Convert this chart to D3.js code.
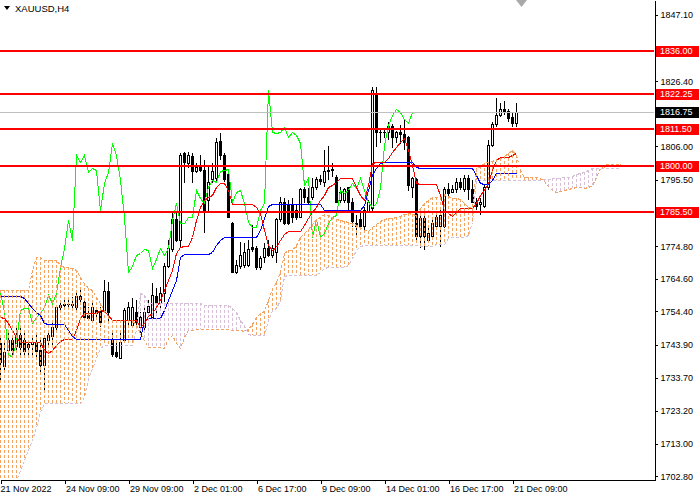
<!DOCTYPE html>
<html>
<head>
<meta charset="utf-8">
<script src="https://cdn.jsdelivr.net/npm/d3@7"></script>
<style>
body { margin: 0; background: #fff; }
svg { display: block; font-family: "Liberation Sans", Arial, sans-serif; }
</style>
</head>
<body>
<div id="chart"></div>
<script>
// XAUUSD H4 bars, 21 Nov - 21 Dec 2022
const opens = [1744.5,1737.0,1742.3,1745.4,1743.3,1747.0,1745.4,1743.0,1743.9,1744.5,
	1742.3,1737.6,1745.4,1746.4,1749.5,1755.5,1756.1,1756.7,1756.4,1755.5,
	1758.9,1757.3,1753.0,1751.7,1754.8,1754.5,1754.8,1760.5,1745.4,1741.4,
	1739.8,1745.4,1751.7,1750.1,1753.9,1749.2,1749.5,1753.9,1752.6,1758.9,
	1757.0,1760.1,1768.3,1773.6,1783.0,1776.7,1803.9,1800.8,1802.7,1798.0,
	1799.6,1798.6,1789.2,1795.5,1796.1,1807.4,1803.3,1797.1,1782.0,1766.7,
	1768.3,1768.9,1768.9,1774.5,1774.2,1768.0,1771.1,1774.2,1772.0,1772.7,
	1783.0,1788.3,1787.7,1787.7,1786.1,1783.9,1792.4,1789.9,1789.9,1793.3,
	1795.8,1794.6,1798.3,1798.6,1796.4,1789.2,1789.2,1793.0,1788.3,1782.0,
	1783.0,1780.8,1785.5,1786.7,1822.1,1810.5,1810.2,1810.2,1812.1,1808.9,
	1810.5,1809.6,1808.9,1793.3,1795.8,1777.7,1783.3,1776.7,1777.7,1780.8,
	1780.8,1780.8,1792.4,1791.7,1792.4,1794.6,1792.4,1796.1,1792.4,1788.6,
	1787.7,1787.1,1793.0,1806.4,1812.7,1815.8,1817.4,1816.8,1814.9,1813.3];
const highs = [1747.0,1745.4,1748.6,1747.0,1749.2,1749.5,1747.6,1745.4,1746.4,1747.6,
	1745.4,1746.4,1748.0,1751.7,1755.8,1757.0,1758.9,1758.0,1758.9,1760.1,
	1761.1,1758.0,1755.8,1758.0,1755.8,1755.8,1764.2,1763.6,1747.6,1744.5,
	1747.6,1755.5,1757.3,1758.6,1758.0,1754.2,1755.8,1758.0,1763.3,1761.7,
	1762.0,1769.5,1776.7,1785.2,1785.5,1803.9,1804.3,1804.3,1803.9,1800.8,
	1803.3,1801.7,1800.2,1800.8,1808.6,1810.2,1803.9,1797.7,1782.4,1770.5,
	1776.1,1775.8,1776.7,1781.4,1774.9,1771.7,1775.8,1776.7,1775.2,1783.6,
	1790.2,1789.9,1789.2,1789.9,1787.7,1793.0,1793.3,1793.0,1796.1,1796.4,
	1797.1,1804.9,1806.1,1800.8,1797.1,1793.3,1793.0,1793.3,1789.9,1784.5,
	1785.5,1787.1,1789.2,1824.6,1824.6,1811.8,1811.5,1813.6,1813.0,1810.8,
	1812.7,1814.3,1809.3,1796.4,1796.1,1785.2,1785.5,1780.5,1783.9,1785.5,
	1787.1,1793.3,1794.6,1793.9,1796.1,1796.1,1797.1,1797.1,1795.5,1789.9,
	1789.9,1793.9,1808.0,1813.6,1821.1,1819.6,1820.2,1817.7,1816.8,1819.6];
const lows = [1733.0,1736.1,1740.8,1740.8,1741.4,1740.1,1740.8,1740.1,1740.8,1739.2,
	1735.1,1728.9,1743.3,1743.3,1747.6,1754.8,1755.8,1755.5,1754.8,1753.9,
	1757.0,1751.7,1751.7,1750.8,1751.7,1749.5,1753.9,1750.8,1740.1,1739.8,
	1739.5,1744.8,1749.5,1749.5,1749.5,1747.6,1748.6,1753.3,1751.7,1753.9,
	1754.8,1757.3,1768.0,1773.0,1776.1,1774.5,1794.6,1799.3,1794.6,1797.7,
	1798.0,1778.9,1785.5,1794.6,1794.6,1801.7,1794.9,1783.6,1766.4,1766.1,
	1767.7,1768.0,1768.3,1773.0,1767.3,1767.3,1769.5,1771.4,1771.1,1769.5,
	1782.4,1781.4,1781.4,1782.0,1783.0,1783.6,1788.3,1787.7,1789.2,1792.4,
	1793.9,1793.3,1795.5,1796.4,1788.3,1788.3,1788.3,1785.2,1780.8,1777.7,
	1780.5,1779.9,1785.2,1785.5,1805.8,1807.1,1808.6,1808.0,1805.5,1807.0,
	1806.8,1804.9,1792.0,1789.9,1776.7,1774.2,1773.6,1776.1,1776.7,1779.9,
	1774.5,1780.5,1790.2,1791.4,1791.4,1792.4,1791.7,1789.2,1788.3,1786.1,
	1784.5,1786.7,1792.4,1805.8,1812.1,1815.2,1815.8,1813.6,1812.1,1812.1];
const closes = [1738.3,1741.4,1745.4,1742.3,1747.0,1743.0,1741.7,1743.9,1744.8,1741.7,
	1737.6,1745.8,1747.0,1749.5,1755.5,1756.1,1756.7,1756.4,1756.1,1759.2,
	1758.0,1752.6,1752.3,1755.5,1753.6,1750.8,1760.5,1754.2,1740.8,1740.4,
	1744.8,1754.8,1755.5,1755.5,1750.8,1752.6,1753.9,1755.8,1759.5,1757.0,
	1760.1,1768.3,1774.2,1783.0,1776.7,1803.3,1801.1,1803.3,1798.0,1799.3,
	1798.6,1786.1,1794.6,1798.0,1807.1,1803.3,1795.5,1783.9,1766.7,1768.6,
	1772.0,1772.7,1773.9,1773.6,1768.0,1770.8,1774.2,1772.0,1774.2,1783.0,
	1788.3,1782.0,1782.0,1783.9,1783.9,1792.4,1789.9,1788.3,1793.3,1795.5,
	1794.9,1798.3,1798.6,1798.9,1788.6,1791.7,1792.4,1788.3,1782.4,1780.8,
	1780.8,1786.1,1788.3,1823.6,1810.5,1810.2,1810.5,1812.1,1808.9,1810.5,
	1809.6,1807.1,1793.9,1796.1,1777.7,1783.3,1777.7,1778.9,1782.0,1783.9,
	1784.5,1792.4,1791.4,1792.4,1794.6,1793.0,1796.1,1792.4,1788.6,1787.1,
	1788.3,1793.0,1806.4,1812.7,1815.8,1817.7,1816.8,1814.6,1813.3,1816.75];

// Ichimoku lines as drawn on the chart
const tenkan = [1752.6,1752.3,1750.8,1748.6,1746.4,1744.8,1744.8,1744.8,1744.8,1744.8,
	1744.8,1742.3,1741.4,1742.3,1743.9,1745.1,1745.8,1745.8,1745.8,1748.6,
	1752.3,1753.9,1753.9,1753.9,1753.9,1754.8,1754.5,1753.3,1751.7,1751.7,
	1751.7,1751.7,1751.7,1751.7,1751.7,1749.5,1750.8,1753.0,1753.9,1755.8,
	1758.0,1761.1,1764.2,1767.3,1772.7,1774.5,1774.9,1774.9,1777.7,1783.0,
	1787.1,1789.2,1790.2,1790.8,1793.3,1794.6,1794.6,1792.4,1788.0,1788.0,
	1788.0,1788.0,1788.0,1788.0,1787.1,1785.2,1779.9,1775.2,1773.6,1774.5,
	1776.7,1778.6,1779.5,1779.5,1779.5,1779.5,1781.4,1783.6,1785.5,1787.1,
	1789.2,1790.8,1793.3,1793.9,1794.9,1796.1,1796.1,1796.1,1796.1,1793.3,
	1790.8,1789.2,1793.9,1800.8,1801.1,1801.1,1801.1,1802.4,1804.3,1805.8,
	1807.4,1808.6,1804.9,1800.2,1794.6,1794.2,1794.2,1794.2,1794.2,1794.2,
	1790.8,1786.1,1785.2,1784.2,1785.5,1786.7,1786.7,1786.7,1786.7,1788.3,
	1790.8,1792.4,1794.6,1798.6,1801.7,1802.7,1802.7,1802.7,1803.3,1803.9];
const kijun = [1759.2,1759.2,1759.2,1759.2,1759.2,1759.2,1758.6,1757.0,1755.5,1754.2,
	1753.3,1750.8,1750.4,1750.4,1750.4,1750.4,1750.4,1748.6,1746.7,1745.8,
	1745.8,1745.8,1745.8,1745.8,1745.8,1745.8,1745.8,1745.8,1745.8,1745.8,
	1745.8,1745.8,1745.8,1745.8,1745.8,1745.8,1751.7,1752.3,1752.3,1752.3,
	1752.3,1754.8,1758.0,1761.1,1764.2,1771.4,1772.3,1772.3,1772.3,1772.3,
	1772.3,1772.3,1772.3,1773.0,1775.2,1776.7,1777.7,1777.7,1777.7,1777.7,
	1777.7,1777.7,1777.7,1777.7,1777.7,1779.9,1783.6,1787.4,1788.0,1788.0,
	1788.0,1788.0,1788.0,1788.0,1788.0,1788.0,1788.0,1788.0,1788.0,1788.0,
	1788.0,1786.1,1786.1,1786.1,1786.1,1786.1,1786.1,1786.1,1786.1,1786.1,
	1786.1,1787.7,1792.4,1797.1,1799.3,1800.8,1801.1,1801.1,1801.1,1801.1,
	1801.1,1801.1,1801.1,1801.1,1799.6,1799.3,1799.3,1799.3,1799.3,1799.3,
	1799.3,1799.3,1799.3,1799.3,1799.3,1799.3,1799.3,1799.3,1799.3,1797.1,
	1794.6,1794.2,1794.2,1795.5,1797.7,1797.7,1797.7,1797.7,1797.7,1797.7];
// Senkou spans, already shifted 26 bars forward (bar index 0..155)
const spanA = [1761.1,1761.1,1761.1,1761.1,1761.1,1761.1,1761.1,1761.1,1767.3,1771.4,
	1771.4,1770.5,1770.5,1770.5,1770.5,1768.9,1768.3,1768.3,1768.0,1767.3,
	1765.2,1763.3,1761.7,1761.1,1758.9,1757.0,1754.8,1753.0,1751.7,1751.7,
	1751.7,1751.7,1751.7,1751.7,1750.1,1747.6,1745.4,1743.3,1743.3,1743.3,
	1743.3,1743.0,1746.1,1747.0,1744.5,1743.0,1746.4,1748.6,1748.6,1748.9,
	1748.9,1748.9,1748.9,1748.9,1748.9,1748.9,1748.9,1748.9,1748.6,1748.6,
	1748.6,1748.3,1748.9,1750.4,1752.6,1753.9,1754.5,1758.0,1761.7,1763.6,
	1766.7,1772.7,1773.6,1773.6,1775.2,1777.7,1778.9,1780.2,1781.7,1783.3,
	1783.9,1784.9,1784.5,1783.9,1783.3,1783.0,1782.7,1782.4,1782.0,1781.4,
	1780.8,1779.9,1779.5,1780.8,1781.7,1782.7,1783.3,1783.6,1783.6,1783.9,
	1784.2,1784.9,1785.2,1784.9,1784.5,1786.7,1788.3,1789.2,1790.2,1790.2,
	1790.2,1791.1,1790.5,1789.9,1789.9,1789.5,1788.3,1787.1,1786.7,1799.3,
	1799.9,1800.8,1801.1,1801.4,1802.1,1802.4,1803.0,1803.9,1804.9,1803.3,
	1798.6,1796.4,1796.4,1796.4,1796.4,1796.1,1795.2,1793.6,1792.4,1791.7,
	1792.0,1792.4,1792.7,1793.0,1793.3,1793.3,1793.0,1793.3,1793.9,1796.4,
	1799.3,1800.2,1800.5,1800.5,1800.5,1800.5];
const spanB = [1698.5,1698.5,1698.5,1698.5,1701.7,1704.8,1707.9,1711.0,1714.2,1718.2,
	1722.9,1725.7,1725.7,1725.7,1725.7,1725.7,1725.7,1725.7,1725.7,1725.7,
	1725.7,1727.6,1733.6,1736.7,1739.8,1743.0,1743.9,1743.9,1743.9,1743.9,
	1743.9,1743.9,1743.9,1743.9,1748.6,1760.2,1759.5,1757.0,1757.0,1757.0,
	1757.0,1757.0,1757.0,1757.0,1757.0,1757.0,1757.0,1757.0,1757.0,1757.0,
	1757.0,1756.4,1756.4,1756.4,1756.4,1756.4,1756.4,1756.4,1755.5,1754.2,
	1751.7,1750.1,1747.3,1747.0,1747.0,1747.0,1747.0,1751.7,1754.8,1755.5,
	1758.0,1765.5,1765.8,1765.8,1765.8,1765.8,1765.8,1765.8,1765.8,1765.8,
	1766.7,1768.0,1768.3,1768.3,1768.3,1768.3,1768.3,1768.9,1771.1,1773.6,
	1774.9,1775.2,1775.2,1775.2,1775.2,1775.2,1775.2,1775.2,1775.2,1775.2,
	1775.2,1775.2,1775.2,1775.2,1775.2,1774.9,1774.9,1774.9,1774.9,1775.5,
	1775.5,1775.5,1777.4,1777.7,1777.7,1777.7,1777.7,1778.3,1782.4,1795.5,
	1795.5,1795.5,1795.5,1795.5,1795.5,1795.5,1795.5,1795.5,1795.5,1795.5,
	1795.5,1795.5,1795.5,1795.5,1795.5,1795.5,1795.8,1795.8,1796.1,1796.1,
	1796.1,1796.4,1796.4,1796.7,1797.4,1797.7,1798.0,1798.6,1799.3,1799.3,
	1799.3,1799.3,1799.3,1799.3,1799.3,1799.3];
const chikouShift = 26;   // chikou span = close plotted 26 bars back

const levels = [1836.00, 1822.25, 1811.50, 1800.00, 1785.50];
const bidPrice = 1816.75;
const yTicks = [1847.10, 1826.40, 1806.00, 1795.50, 1774.80, 1764.60, 1754.40,
	1743.90, 1733.70, 1723.20, 1713.00, 1702.80];
const xTickBars = [0, 16, 32, 48, 64, 80, 96, 112, 128];
const xTickLabels = ["21 Nov 2022", "24 Nov 09:00", "29 Nov 09:00", "2 Dec 01:00",
	"6 Dec 17:00", "9 Dec 09:00", "14 Dec 01:00", "16 Dec 17:00", "21 Dec 09:00"];

const kumoUp = "#F4A460", kumoDown = "#D8BFD8";

const width = 700, height = 500;
const plotW = 654, plotH = 479;

const svg = d3.select("#chart")
	.append("svg")
	.attr("width", width)
	.attr("height", height);

svg.append("rect").attr("width", width).attr("height", height).attr("fill", "#fff");

svg.append("defs").append("clipPath").attr("id", "plotclip")
	.append("rect").attr("width", plotW).attr("height", plotH);

// bar i sits on pixel column 4i
const x = d3.scaleLinear().domain([-0.125, 163.375]).range([0, plotW]);
const y = d3.scaleLinear().domain([1701.65, 1851.8]).range([480, 0]);
const py = v => Math.round(y(v)) + 0.5;            // snap to pixel centre
const pyc = v => Math.min(plotH, Math.round(y(v))); // clamp inside the plot

const plot = svg.append("g").attr("clip-path", "url(#plotclip)");

// candles
const bars = closes.map((c, i) => ({ i, o: opens[i], h: highs[i], l: lows[i], c }));
const candles = plot.append("g").style("shape-rendering", "crispEdges");
candles.selectAll("line")
	.data(bars)
	.join("line")
	.attr("x1", d => x(d.i)).attr("x2", d => x(d.i))
	.attr("y1", d => y(d.h)).attr("y2", d => y(d.l))
	.attr("stroke", "#000");
candles.selectAll("rect")
	.data(bars)
	.join("rect")
	.attr("x", d => x(d.i) - 1)
	.attr("width", 2)
	.attr("y", d => y(Math.max(d.o, d.c)))
	.attr("height", d => Math.max(0.5, Math.abs(y(d.o) - y(d.c))))
	.attr("fill", d => d.c >= d.o ? "#fff" : "#000")
	.attr("stroke", "#000");

// kumo hatching: one dotted column per bar between span A and span B
const kumo = spanA.map((a, i) => ({ i, a, b: spanB[i] }));
svg.append("g")
	.style("shape-rendering", "crispEdges")
	.selectAll("line")
	.data(kumo)
	.join("line")
	.attr("x1", d => x(d.i)).attr("x2", d => x(d.i))
	.attr("y1", d => pyc(Math.max(d.a, d.b)))
	.attr("y2", d => pyc(Math.min(d.a, d.b)))
	.attr("stroke", d => d.a >= d.b ? kumoUp : kumoDown)
	.attr("stroke-dasharray", "3 2");

const lineByIndex = d3.line().x((d, i) => x(i)).y(d => py(d));

const lines = plot.append("g").style("shape-rendering", "crispEdges");
lines.append("path").datum(spanA).attr("d", lineByIndex)
	.attr("fill", "none").attr("stroke", kumoUp).attr("stroke-dasharray", "3 2");
lines.append("path").datum(spanB).attr("d", lineByIndex)
	.attr("fill", "none").attr("stroke", kumoDown).attr("stroke-dasharray", "3 2");

// chikou
lines.append("path")
	.datum(closes.slice(chikouShift))
	.attr("d", lineByIndex)
	.attr("fill", "none")
	.attr("stroke", "#00FF00");

lines.append("path").datum(kijun).attr("d", lineByIndex)
	.attr("fill", "none").attr("stroke", "#0000FF");
lines.append("path").datum(tenkan).attr("d", lineByIndex)
	.attr("fill", "none").attr("stroke", "#FF0000");

// bid line
svg.append("line")
	.style("shape-rendering", "crispEdges")
	.attr("x1", 0).attr("x2", plotW)
	.attr("y1", py(bidPrice)).attr("y2", py(bidPrice))
	.attr("stroke", "#C0C0C0");

// horizontal levels
svg.selectAll("line.level")
	.data(levels)
	.join("line")
	.attr("class", "level")
	.style("shape-rendering", "crispEdges")
	.attr("x1", 0).attr("x2", plotW)
	.attr("y1", d => Math.round(y(d))).attr("y2", d => Math.round(y(d)))
	.attr("stroke", "#FF0000")
	.attr("stroke-width", 2);

// price axis
const yAxis = svg.append("g")
	.style("shape-rendering", "crispEdges")
	.attr("transform", `translate(${plotW + 0.5},0)`)
	.call(d3.axisRight(y)
		.tickValues(yTicks)
		.tickSize(3)
		.tickSizeOuter(0)
		.tickPadding(3)
		.tickFormat(d3.format(".2f")));
yAxis.attr("font-family", "'Liberation Sans', Arial, sans-serif").attr("font-size", 9);
yAxis.select(".domain").attr("stroke", "#000");
yAxis.selectAll(".tick line").attr("stroke", "#000");
yAxis.selectAll(".tick text").attr("fill", "#000");

// time axis
const xAxis = svg.append("g")
	.style("shape-rendering", "crispEdges")
	.attr("transform", `translate(0,${plotH + 0.5})`)
	.call(d3.axisBottom(x)
		.tickValues(xTickBars)
		.tickSize(4)
		.tickSizeOuter(0)
		.tickPadding(2)
		.tickFormat((d, i) => xTickLabels[i]));
xAxis.attr("font-family", "'Liberation Sans', Arial, sans-serif").attr("font-size", 9);
xAxis.select(".domain").attr("stroke", "#000");
xAxis.selectAll(".tick line").attr("stroke", "#000");
xAxis.selectAll(".tick text")
	.attr("fill", "#000")
	.attr("text-anchor", "start")
	.attr("x", d => d === 0 ? -0.5 : 1);

// price tags on the axis
function priceTag(v, bg) {
	const cy = Math.round(y(v));
	svg.append("rect")
		.attr("x", plotW + 2).attr("y", cy - 5)
		.attr("width", 43).attr("height", 11)
		.attr("fill", bg);
	svg.append("text")
		.attr("x", plotW + 6).attr("y", cy)
		.attr("dy", "0.35em")
		.attr("font-size", 9)
		.attr("fill", "#fff")
		.text(d3.format(".2f")(v));
}
levels.forEach(v => priceTag(v, "#FF0000"));
priceTag(bidPrice, "#000");

// title
svg.append("path").attr("d", "M4,6 L10,6 L7,10 Z").attr("fill", "#000");
svg.append("text")
	.attr("x", 15).attr("y", 12)
	.attr("font-size", 9.5)
	.attr("fill", "#000")
	.text("XAUUSD,H4");

// chart shift marker
svg.append("path").attr("d", "M516,0 L527,0 L521.5,7 Z").attr("fill", "#A9A9A9");
</script>
</body>
</html>
